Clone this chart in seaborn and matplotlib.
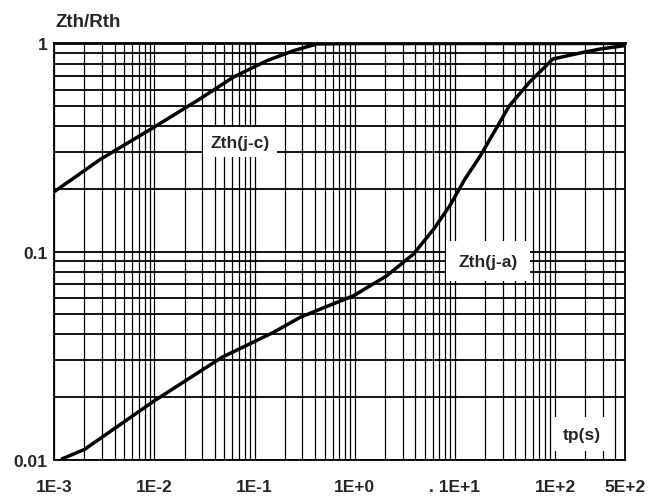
import numpy as np
import pandas as pd
import matplotlib
matplotlib.use("Agg")
import matplotlib.pyplot as plt
import seaborn as sns
from matplotlib.ticker import LogLocator, NullFormatter, FixedLocator, FixedFormatter

# ---- data ----
t_jc = [1e-3, 2.9e-3, 1e-2, 0.0285, 0.0614, 0.133, 0.246, 0.42, 1.0, 10.0, 100.0, 500.0]
z_jc = [0.194, 0.278, 0.397, 0.542, 0.689, 0.827, 0.924, 0.995, 1.0, 1.0, 1.0, 1.0]

t_ja = [1.2e-3, 2e-3, 1e-2, 0.047, 0.154, 0.285, 0.568, 0.97, 2.09, 3.86, 6.13, 8.9,
        12.6, 18.0, 35.0, 55.6, 95.0, 178.0, 282.0, 500.0]
z_ja = [0.0101, 0.0112, 0.0192, 0.031, 0.0409, 0.0483, 0.0553, 0.0613, 0.0765, 0.0973,
        0.128, 0.166, 0.223, 0.289, 0.502, 0.651, 0.842, 0.90, 0.94, 0.977]

series_names = ["Zth(j-c)", "Zth(j-a)"]
x_tick_vals = [1e-3, 1e-2, 1e-1, 1e0, 1e1, 1e2, 5e2]
x_tick_labels = ["1E-3", "1E-2", "1E-1", "1E+0", ". 1E+1", "1E+2", "5E+2"]
y_tick_vals = [0.01, 0.1, 1]
y_tick_labels = ["0.01", "0.1", "1"]

df = pd.concat([
    pd.DataFrame({"t": t_jc, "z": z_jc, "series": series_names[0]}),
    pd.DataFrame({"t": t_ja, "z": z_ja, "series": series_names[1]}),
], ignore_index=True)

sns.set_style("white")
plt.rcParams["font.family"] = ["Liberation Sans", "DejaVu Sans"]

fig = plt.figure(figsize=(6.55, 5.02), dpi=100)
ax = fig.add_axes([0.0829, 0.0823, 0.8713, 0.8291])

ax.set_xscale("log")
ax.set_yscale("log")
ax.set_xlim(1e-3, 5e2)
ax.set_ylim(0.01, 1)

sns.lineplot(data=df, x="t", y="z", hue="series", palette=["black", "black"],
             legend=False, sort=False, estimator=None, linewidth=2.5, ax=ax, zorder=5)

ax.xaxis.set_major_locator(FixedLocator(x_tick_vals))
ax.xaxis.set_major_formatter(FixedFormatter(x_tick_labels))
ax.yaxis.set_major_locator(FixedLocator(y_tick_vals))
ax.yaxis.set_major_formatter(FixedFormatter(y_tick_labels))
ax.xaxis.set_minor_locator(LogLocator(base=10, subs=np.arange(2, 10), numticks=30))
ax.yaxis.set_minor_locator(LogLocator(base=10, subs=np.arange(2, 10), numticks=30))
ax.xaxis.set_minor_formatter(NullFormatter())
ax.yaxis.set_minor_formatter(NullFormatter())

ax.grid(True, which="both", axis="x", color="black", linewidth=0.9)
ax.grid(True, which="both", axis="y", color="black", linewidth=1.3)
ax.set_axisbelow(True)

ax.tick_params(axis="both", which="both", length=0)
ax.tick_params(axis="x", which="major", pad=14, labelsize=12.5)
ax.tick_params(axis="y", which="major", pad=5, labelsize=12.5)
for lab in ax.get_xticklabels() + ax.get_yticklabels():
    lab.set_fontweight("bold")

for s in ax.spines.values():
    s.set_color("black")
    s.set_linewidth(1.3)
ax.spines["top"].set_linewidth(2.0)

ax.set_xlabel("")
ax.set_ylabel("")

ax.text(0.0716, 0.336, "Zth(j-c)", ha="center", va="center", fontsize=12.5,
        fontweight="bold", zorder=6,
        bbox=dict(facecolor="white", edgecolor="none", boxstyle="square,pad=0.45"))
ax.text(21.5, 0.090, "Zth(j-a)", ha="center", va="center", fontsize=12.5,
        fontweight="bold", zorder=6,
        bbox=dict(facecolor="white", edgecolor="none", boxstyle="square,pad=0.7"))
ax.text(187, 0.01327, "tp(s)", ha="center", va="center", fontsize=12.5,
        fontweight="bold", zorder=6,
        bbox=dict(facecolor="white", edgecolor="none", boxstyle="square,pad=0.55"))

fig.text(55 / 655, 1 - 27 / 502, "Zth/Rth", ha="left", va="baseline",
         fontsize=13.5, fontweight="bold")

fig.savefig("out.png", dpi=100, facecolor="white")
